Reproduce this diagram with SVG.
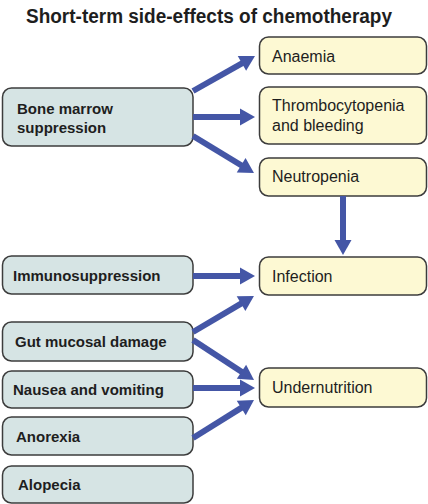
<svg xmlns="http://www.w3.org/2000/svg" width="428" height="504" viewBox="0 0 428 504">
<style>
.l{fill:#d6e4e4;stroke:#3c3c3c;stroke-width:1.5}
.r{fill:#fdf9d3;stroke:#3c3c3c;stroke-width:1.5}
.lt{font-family:"Liberation Sans",Arial,sans-serif;font-size:15px;font-weight:bold;fill:#1e1e1e}
.rt{font-family:"Liberation Sans",Arial,sans-serif;font-size:16px;fill:#1e1e1e}
.a{stroke:#4456a6;stroke-width:6;fill:none;marker-end:url(#ah)}
</style>
<defs>
<marker id="ah" markerUnits="userSpaceOnUse" markerWidth="16" markerHeight="18" refX="1" refY="8.5" orient="auto" overflow="visible">
<path d="M0,0 L15,8.5 L0,17 z" fill="#4456a6"/>
</marker>
</defs>
<text x="26" y="22.5" font-family="Liberation Sans,Arial,sans-serif" font-size="20" font-weight="bold" fill="#1e1e1e" textLength="366" lengthAdjust="spacingAndGlyphs">Short-term side-effects of chemotherapy</text>
<g id="bone"><rect class="l" x="2.5" y="88" width="190.5" height="58" rx="9"/><text class="lt" x="17" y="114">Bone marrow</text><text class="lt" x="17" y="133">suppression</text></g>
<g id="immuno"><rect class="l" x="2.5" y="256" width="190.5" height="38" rx="9"/><text class="lt" x="13" y="281">Immunosuppression</text></g>
<g id="gut"><rect class="l" x="2.5" y="322" width="190.5" height="39" rx="9"/><text class="lt" x="15" y="347">Gut mucosal damage</text></g>
<g id="nausea"><rect class="l" x="2.5" y="371" width="190.5" height="37" rx="9"/><text class="lt" x="13" y="395">Nausea and vomiting</text></g>
<g id="anorexia"><rect class="l" x="2.5" y="417" width="190.5" height="38" rx="9"/><text class="lt" x="16" y="442">Anorexia</text></g>
<g id="alopecia"><rect class="l" x="2.5" y="466" width="190.5" height="37" rx="9"/><text class="lt" x="18" y="490">Alopecia</text></g>
<g id="anaemia"><rect class="r" x="259.5" y="37" width="167" height="37" rx="9"/><text class="rt" x="272" y="62">Anaemia</text></g>
<g id="thrombo"><rect class="r" x="259.5" y="87" width="167" height="57" rx="9"/><text class="rt" x="272" y="111">Thrombocytopenia</text><text class="rt" x="272" y="131">and bleeding</text></g>
<g id="neutro"><rect class="r" x="259.5" y="158" width="167" height="38" rx="9"/><text class="rt" x="272" y="182">Neutropenia</text></g>
<g id="infection"><rect class="r" x="259.5" y="257" width="167" height="38" rx="9"/><text class="rt" x="272" y="282">Infection</text></g>
<g id="undernutrition"><rect class="r" x="259.5" y="368" width="167" height="39" rx="9"/><text class="rt" x="272" y="393">Undernutrition</text></g>
<g id="connectors">
<line class="a" x1="193" y1="91" x2="242.8" y2="62.9"/>
<line class="a" x1="193" y1="117" x2="241" y2="117"/>
<line class="a" x1="193" y1="136" x2="242" y2="165.7"/>
<line class="a" x1="343" y1="196" x2="343" y2="241"/>
<line class="a" x1="193" y1="276" x2="241" y2="276"/>
<line class="a" x1="193" y1="332" x2="241.9" y2="303.1"/>
<line class="a" x1="193" y1="340" x2="242.3" y2="372.3"/>
<line class="a" x1="193" y1="388" x2="241" y2="388"/>
<line class="a" x1="193" y1="438" x2="242.1" y2="407.4"/>
</g>
</svg>
